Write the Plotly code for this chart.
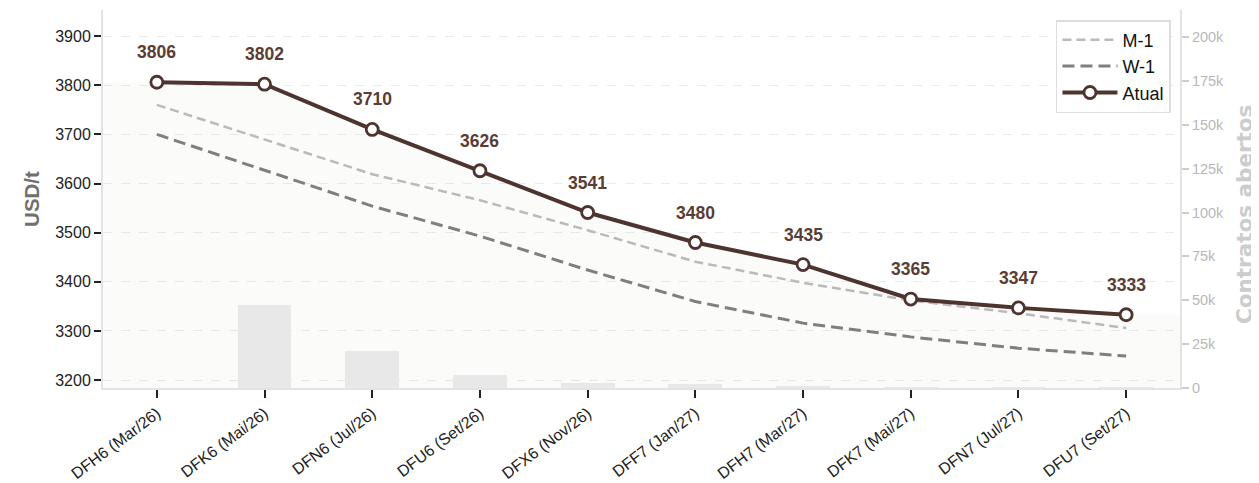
import plotly.graph_objects as go

categories = ["DFH6 (Mar/26)", "DFK6 (Mai/26)", "DFN6 (Jul/26)", "DFU6 (Set/26)", "DFX6 (Nov/26)",
              "DFF7 (Jan/27)", "DFH7 (Mar/27)", "DFK7 (Mai/27)", "DFN7 (Jul/27)", "DFU7 (Set/27)"]
atual = [3806, 3802, 3710, 3626, 3541, 3480, 3435, 3365, 3347, 3333]
m1 = [3760, 3690, 3619, 3566, 3505, 3441, 3398, 3362, 3336, 3306]
w1 = [3700, 3627, 3554, 3493, 3424, 3360, 3316, 3288, 3265, 3249]
open_interest = [0, 47500, 21000, 7500, 3000, 2500, 700, 300, 200, 100]
price_ticks = [3200, 3300, 3400, 3500, 3600, 3700, 3800, 3900]
oi_ticks = [0, 25000, 50000, 75000, 100000, 125000, 150000, 175000, 200000]
oi_tick_labels = ["0", "25k", "50k", "75k", "100k", "125k", "150k", "175k", "200k"]

n = len(categories)
xs = list(range(n))
FONT = "Liberation Sans, Arial, Helvetica, sans-serif"
BROWN = "#4e342e"
LABEL = "#5a3d35"

fig = go.Figure()

# faint fill under the current curve, extended to the plot edges
fig.add_trace(go.Scatter(
    x=[xs[0] - 0.5] + xs + [xs[-1] + 0.5],
    y=[atual[0]] + atual + [atual[-1]],
    mode="lines", line=dict(width=0), fill="tozeroy",
    fillcolor="rgba(90,70,50,0.025)", showlegend=False, hoverinfo="skip"))

fig.add_trace(go.Bar(
    x=xs, y=open_interest, width=0.5, marker=dict(color="#e8e8e8", line=dict(width=0)),
    yaxis="y2", showlegend=False, hoverinfo="skip"))

fig.add_trace(go.Scatter(
    x=xs, y=m1, name="M-1", mode="lines", legendgroup="m1",
    line=dict(color="#bababa", width=2.5, dash="9px,5px")))
fig.add_trace(go.Scatter(
    x=xs, y=w1, name="W-1", mode="lines", legendgroup="w1",
    line=dict(color="#7f7f7f", width=3, dash="12px,6px")))
fig.add_trace(go.Scatter(
    x=xs, y=atual, name="Atual", mode="lines+markers", legendgroup="atual",
    line=dict(color=BROWN, width=4),
    marker=dict(symbol="circle", size=12, color="white", line=dict(color=BROWN, width=2.8))))

for i, v in enumerate(atual):
    fig.add_annotation(x=xs[i], y=v, text=f"<b>{v}</b>", showarrow=False, yshift=30,
                       font=dict(family=FONT, size=17.5, color=LABEL))

# secondary axis title
fig.add_annotation(x=1.0594, y=0.46, xref="paper", yref="paper", text="<b>Contratos abertos</b>",
                   textangle=-90, showarrow=False, xanchor="center", yanchor="middle",
                   font=dict(family="DejaVu Sans, sans-serif", size=21.5, color="#cccccc"))

# page body has an 8px margin: compensate so the plot area lands at x 103-1180, y 10-388
fig.update_layout(
    width=1259, height=483,
    margin=dict(l=95, r=87, t=2, b=103, autoexpand=False),
    plot_bgcolor="white", paper_bgcolor="white",
    font=dict(family=FONT, color="#222222"),
    bargap=0,
    legend=dict(x=0.9916, y=0.9735, xanchor="right", yanchor="top",
                bgcolor="white", bordercolor="#dddddd", borderwidth=1.5,
                font=dict(family=FONT, size=18, color="#111111"),
                itemwidth=55, traceorder="grouped", tracegroupgap=0),
    xaxis=dict(range=[xs[0] - 0.5, xs[-1] + 0.5], tickvals=xs, ticktext=categories,
               tickangle=-37, ticks="outside", ticklen=8, tickwidth=1.5, tickcolor="#222222",
               tickfont=dict(family=FONT, size=16, color="#222222"),
               showline=True, linecolor="#e3e3e3", linewidth=2,
               showgrid=False, zeroline=False, automargin=False),
    yaxis=dict(range=[3184, 3953], tickvals=price_ticks, ticks="outside", ticklen=7,
               tickwidth=2, tickcolor="#222222",
               tickfont=dict(family=FONT, size=16, color="#222222"),
               showline=True, linecolor="#e3e3e3", linewidth=2,
               showgrid=True, gridcolor="#ebebeb", griddash="dash", gridwidth=1,
               zeroline=False, automargin=False,
               title=dict(text="<b>USD/t</b>", standoff=10,
                          font=dict(family=FONT, size=20.5, color="#707070"))),
    yaxis2=dict(overlaying="y", side="right", range=[0, 215400], tickvals=oi_ticks,
                ticktext=oi_tick_labels, ticks="outside", ticklen=7, tickwidth=1.5,
                tickcolor="#cccccc", tickfont=dict(family=FONT, size=14.5, color="#b8b8b8"),
                showline=True, linecolor="#e3e3e3", linewidth=2,
                showgrid=False, zeroline=False, automargin=False),
)

fig.write_html("out.html")
